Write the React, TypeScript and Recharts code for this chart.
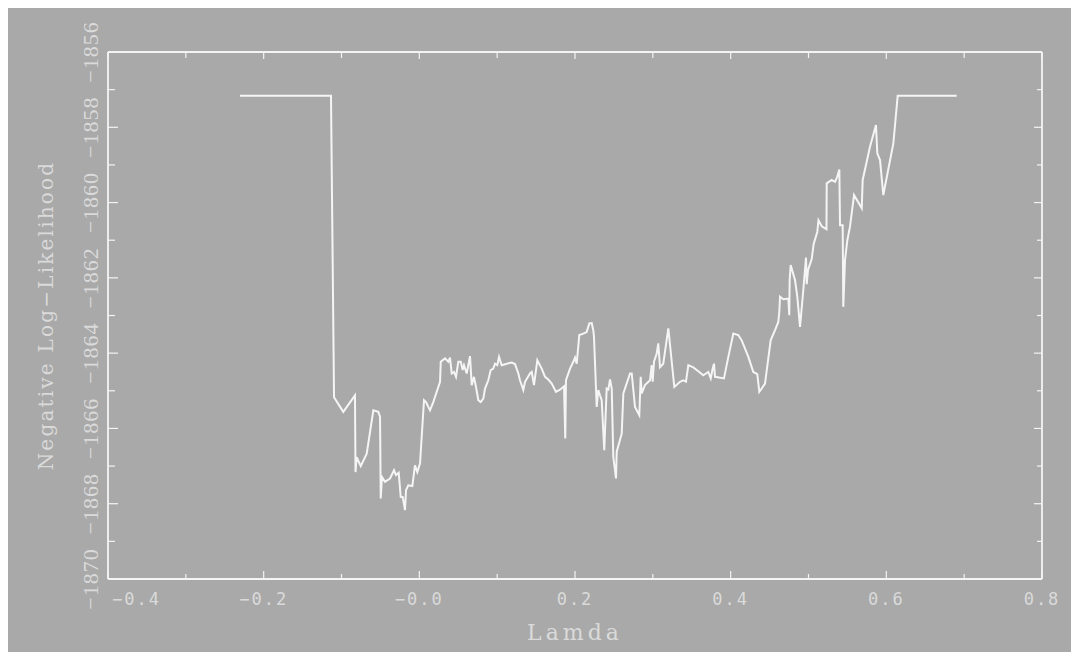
import React from 'react';
import { LineChart, Line, XAxis, YAxis, Label } from 'recharts';

// lambda / negative log-likelihood profile
const likelihoodPath: [number, number][] = [
  [-0.2304, -1857.16], [-0.1135, -1857.16], [-0.1096, -1865.17], [-0.0977, -1865.56],
  [-0.0827, -1865.12], [-0.082, -1867.16], [-0.0805, -1866.76], [-0.0753, -1867.0],
  [-0.0676, -1866.67], [-0.0591, -1865.52], [-0.0527, -1865.56], [-0.0505, -1865.69],
  [-0.0496, -1867.86], [-0.048, -1867.29], [-0.0441, -1867.42], [-0.0377, -1867.33],
  [-0.0325, -1867.11], [-0.03, -1867.24], [-0.0265, -1867.18], [-0.0239, -1867.82],
  [-0.0214, -1867.82], [-0.0184, -1868.17], [-0.0171, -1867.64], [-0.0142, -1867.51],
  [-0.009, -1867.53], [-0.0056, -1866.98], [-0.0026, -1867.16], [0.0009, -1866.93],
  [0.006, -1865.25], [0.0086, -1865.3], [0.0137, -1865.52], [0.0179, -1865.3],
  [0.0266, -1864.76], [0.0275, -1864.23], [0.033, -1864.14], [0.0372, -1864.23],
  [0.0394, -1864.12], [0.0416, -1864.54], [0.0445, -1864.5], [0.0471, -1864.63],
  [0.0501, -1864.23], [0.0532, -1864.23], [0.0557, -1864.45], [0.0574, -1864.32],
  [0.0609, -1864.54], [0.0651, -1864.08], [0.0673, -1864.85], [0.0702, -1864.63],
  [0.0728, -1864.9], [0.0758, -1865.25], [0.0788, -1865.3], [0.0822, -1865.21],
  [0.0844, -1864.94], [0.0886, -1864.72], [0.0917, -1864.45], [0.095, -1864.41],
  [0.0972, -1864.28], [0.1002, -1864.32], [0.1024, -1864.1], [0.1058, -1864.32],
  [0.1123, -1864.28], [0.1187, -1864.25], [0.1229, -1864.29], [0.1272, -1864.54],
  [0.1293, -1864.72], [0.1336, -1864.98], [0.1358, -1864.76], [0.1422, -1864.54],
  [0.1444, -1864.5], [0.1473, -1864.85], [0.1516, -1864.19], [0.1572, -1864.41],
  [0.1615, -1864.63], [0.1657, -1864.7], [0.1701, -1864.81], [0.1756, -1865.03],
  [0.1807, -1864.97], [0.1859, -1864.88], [0.1875, -1866.27], [0.1884, -1864.72],
  [0.1936, -1864.41], [0.1978, -1864.23], [0.2, -1864.12], [0.2022, -1864.28],
  [0.2055, -1863.52], [0.2107, -1863.48], [0.215, -1863.44], [0.2184, -1863.21],
  [0.2215, -1863.2], [0.2235, -1863.39], [0.2244, -1863.57], [0.2279, -1865.43],
  [0.2299, -1864.98], [0.2321, -1865.12], [0.2343, -1865.25], [0.2376, -1866.58],
  [0.2407, -1864.94], [0.2428, -1864.97], [0.245, -1864.7], [0.2472, -1864.94],
  [0.2492, -1866.76], [0.2527, -1867.33], [0.2536, -1866.62], [0.26, -1866.14],
  [0.2621, -1865.07], [0.2707, -1864.54], [0.2729, -1864.54], [0.2771, -1865.43],
  [0.2826, -1865.65], [0.2844, -1864.63], [0.2857, -1865.07], [0.2899, -1864.85],
  [0.2964, -1864.72], [0.2985, -1864.32], [0.2998, -1864.76], [0.3015, -1864.23],
  [0.305, -1864.01], [0.307, -1863.74], [0.3092, -1864.37], [0.3134, -1864.28],
  [0.3199, -1863.34], [0.3276, -1864.9], [0.3349, -1864.76], [0.3391, -1864.72],
  [0.3426, -1864.76], [0.3456, -1864.32], [0.352, -1864.38], [0.3584, -1864.48],
  [0.3648, -1864.59], [0.3713, -1864.5], [0.3744, -1864.67], [0.3769, -1864.41],
  [0.3786, -1864.28], [0.3799, -1864.63], [0.3914, -1864.67], [0.397, -1864.1],
  [0.4034, -1863.48], [0.4098, -1863.52], [0.4142, -1863.66], [0.4227, -1864.1],
  [0.4291, -1864.5], [0.4342, -1864.56], [0.4368, -1865.03], [0.4399, -1864.94],
  [0.4441, -1864.81], [0.4514, -1863.66], [0.457, -1863.39], [0.4612, -1863.17],
  [0.4625, -1862.9], [0.4634, -1862.5], [0.4676, -1862.57], [0.4741, -1862.55],
  [0.4753, -1862.99], [0.4758, -1862.06], [0.4771, -1861.66], [0.4827, -1862.06],
  [0.4856, -1862.5], [0.4891, -1863.3], [0.4933, -1862.33], [0.4968, -1861.46],
  [0.4977, -1862.17], [0.4994, -1861.79], [0.5041, -1861.5], [0.5067, -1861.09],
  [0.5113, -1860.78], [0.5128, -1860.47], [0.517, -1860.63], [0.5231, -1860.71],
  [0.5234, -1859.49], [0.5298, -1859.4], [0.5341, -1859.45], [0.537, -1859.31],
  [0.5396, -1859.12], [0.5405, -1860.6], [0.5439, -1860.6], [0.5447, -1862.77],
  [0.5469, -1861.53], [0.5499, -1861.0], [0.5533, -1860.64], [0.5585, -1859.8],
  [0.5684, -1860.15], [0.5696, -1859.4], [0.579, -1858.52], [0.5867, -1857.94],
  [0.5884, -1858.69], [0.5919, -1858.87], [0.5961, -1859.8], [0.609, -1858.43],
  [0.6146, -1857.16], [0.6904, -1857.16],
];

const xTicks = [-0.4, -0.3, -0.2, -0.1, 0, 0.1, 0.2, 0.3, 0.4, 0.5, 0.6, 0.7, 0.8];
const xMajorTicks = [-0.4, -0.2, 0, 0.2, 0.4, 0.6, 0.8];
const xTickLabels = ['\u22120.4', '\u22120.2', '\u22120.0', '0.2', '0.4', '0.6', '0.8'];

const yTicks = [-1870, -1869, -1868, -1867, -1866, -1865, -1864, -1863, -1862, -1861, -1860, -1859, -1858, -1857, -1856];
const yMajorTicks = [-1870, -1868, -1866, -1864, -1862, -1860, -1858, -1856];
const yTickLabels = ['\u22121870', '\u22121868', '\u22121866', '\u22121864', '\u22121862', '\u22121860', '\u22121858', '\u22121856'];

const xTitle = 'Lamda';
const yTitle = 'Negative Log\u2212Likelihood';

const data = likelihoodPath.map(([lambda, nll]) => ({ lambda, nll }));

const BG = '#a9a9a9';
const FRAME = '#f4f4f4';
const TEXT = '#dadada';
const SERIF = '"Liberation Serif", "DejaVu Serif", serif';
const WIDE_SERIF = '"DejaVu Serif", "Liberation Serif", serif';
const MONO = '"DejaVu Sans Mono", "Liberation Mono", monospace';

const findIndex = (list: number[], v: number) => list.findIndex((t) => Math.abs(t - v) < 1e-6);

// bottom axis: inward tick marks plus labels on even tenths
const BottomTick = (props: any) => {
  const { x, y, payload, index } = props;
  const i = findIndex(xMajorTicks, payload.value);
  const major = i >= 0;
  const first = index === 0;
  return (
    <g>
      <line x1={x} y1={y} x2={x} y2={y - (major ? 8 : 5)} stroke={FRAME} strokeWidth={1.2} />
      {major && (
        <text
          x={first ? x + 4 : x}
          y={y + 25.6}
          textAnchor={first ? 'start' : 'middle'}
          fill={TEXT}
          fontFamily={MONO}
          fontSize={17}
          letterSpacing={2}
        >
          {xTickLabels[i]}
        </text>
      )}
    </g>
  );
};

const TopTick = (props: any) => {
  const { x, y, payload } = props;
  const major = findIndex(xMajorTicks, payload.value) >= 0;
  return <line x1={x} y1={y} x2={x} y2={y + (major ? 7 : 6)} stroke={FRAME} strokeWidth={1.2} />;
};

// left axis: inward ticks and rotated labels
const LeftTick = (props: any) => {
  const { x, y, payload } = props;
  const i = findIndex(yMajorTicks, payload.value);
  const major = i >= 0;
  const bx = x - 10;
  return (
    <g>
      <line x1={x} y1={y} x2={x + (major ? 10 : 7)} y2={y} stroke={FRAME} strokeWidth={1.2} />
      {major && (
        <text
          x={bx}
          y={y}
          transform={`rotate(-90, ${bx}, ${y})`}
          textAnchor="middle"
          fill={TEXT}
          fontFamily={SERIF}
          fontSize={22}
          letterSpacing={1}
        >
          {yTickLabels[i]}
        </text>
      )}
    </g>
  );
};

const RightTick = (props: any) => {
  const { x, y, payload } = props;
  const major = findIndex(yMajorTicks, payload.value) >= 0;
  return <line x1={x} y1={y} x2={x - (major ? 8 : 5)} y2={y} stroke={FRAME} strokeWidth={1.2} />;
};

const XTitle = (props: any) => {
  const { viewBox } = props;
  const cx = viewBox.x + viewBox.width / 2;
  return (
    <text x={cx} y={viewBox.y + 61.3} textAnchor="middle" fill={TEXT} fontFamily={WIDE_SERIF} fontSize={22} letterSpacing={4}>
      {xTitle}
    </text>
  );
};

const YTitle = (props: any) => {
  const { viewBox } = props;
  const bx = viewBox.x + 44.7;
  const cy = viewBox.y + viewBox.height / 2;
  return (
    <text
      x={bx}
      y={cy}
      transform={`rotate(-90, ${bx}, ${cy})`}
      textAnchor="middle"
      fill={TEXT}
      fontFamily={WIDE_SERIF}
      fontSize={20}
      letterSpacing={2.2}
    >
      {yTitle}
    </text>
  );
};

const axisLine = { stroke: FRAME, strokeWidth: 1.8 };

export default function App() {
  return (
    <div style={{ width: 1071, height: 644, background: BG }}>
      <LineChart width={1071} height={644} data={data} margin={{ top: 43, right: 36, bottom: 0, left: 0 }}>
        <XAxis
          dataKey="lambda"
          type="number"
          domain={[-0.4, 0.8]}
          ticks={xTicks}
          interval={0}
          allowDataOverflow
          height={73}
          tickSize={0}
          tickMargin={0}
          tickLine={false}
          axisLine={axisLine}
          tick={<BottomTick />}
        >
          <Label content={<XTitle />} />
        </XAxis>
        <XAxis
          xAxisId="top"
          orientation="top"
          dataKey="lambda"
          type="number"
          domain={[-0.4, 0.8]}
          ticks={xTicks}
          interval={0}
          allowDataOverflow
          height={1}
          tickSize={0}
          tickMargin={0}
          tickLine={false}
          axisLine={axisLine}
          tick={<TopTick />}
        />
        <YAxis
          type="number"
          domain={[-1870, -1856]}
          ticks={yTicks}
          interval={0}
          allowDataOverflow
          width={100}
          tickSize={0}
          tickMargin={0}
          tickLine={false}
          axisLine={axisLine}
          tick={<LeftTick />}
        >
          <Label content={<YTitle />} />
        </YAxis>
        <YAxis
          yAxisId="right"
          orientation="right"
          type="number"
          domain={[-1870, -1856]}
          ticks={yTicks}
          interval={0}
          allowDataOverflow
          width={1}
          tickSize={0}
          tickMargin={0}
          tickLine={false}
          axisLine={axisLine}
          tick={<RightTick />}
        />
        <Line
          type="linear"
          dataKey="nll"
          stroke="#f5f5f5"
          strokeWidth={2}
          dot={false}
          activeDot={false}
          isAnimationActive={false}
        />
      </LineChart>
    </div>
  );
}
